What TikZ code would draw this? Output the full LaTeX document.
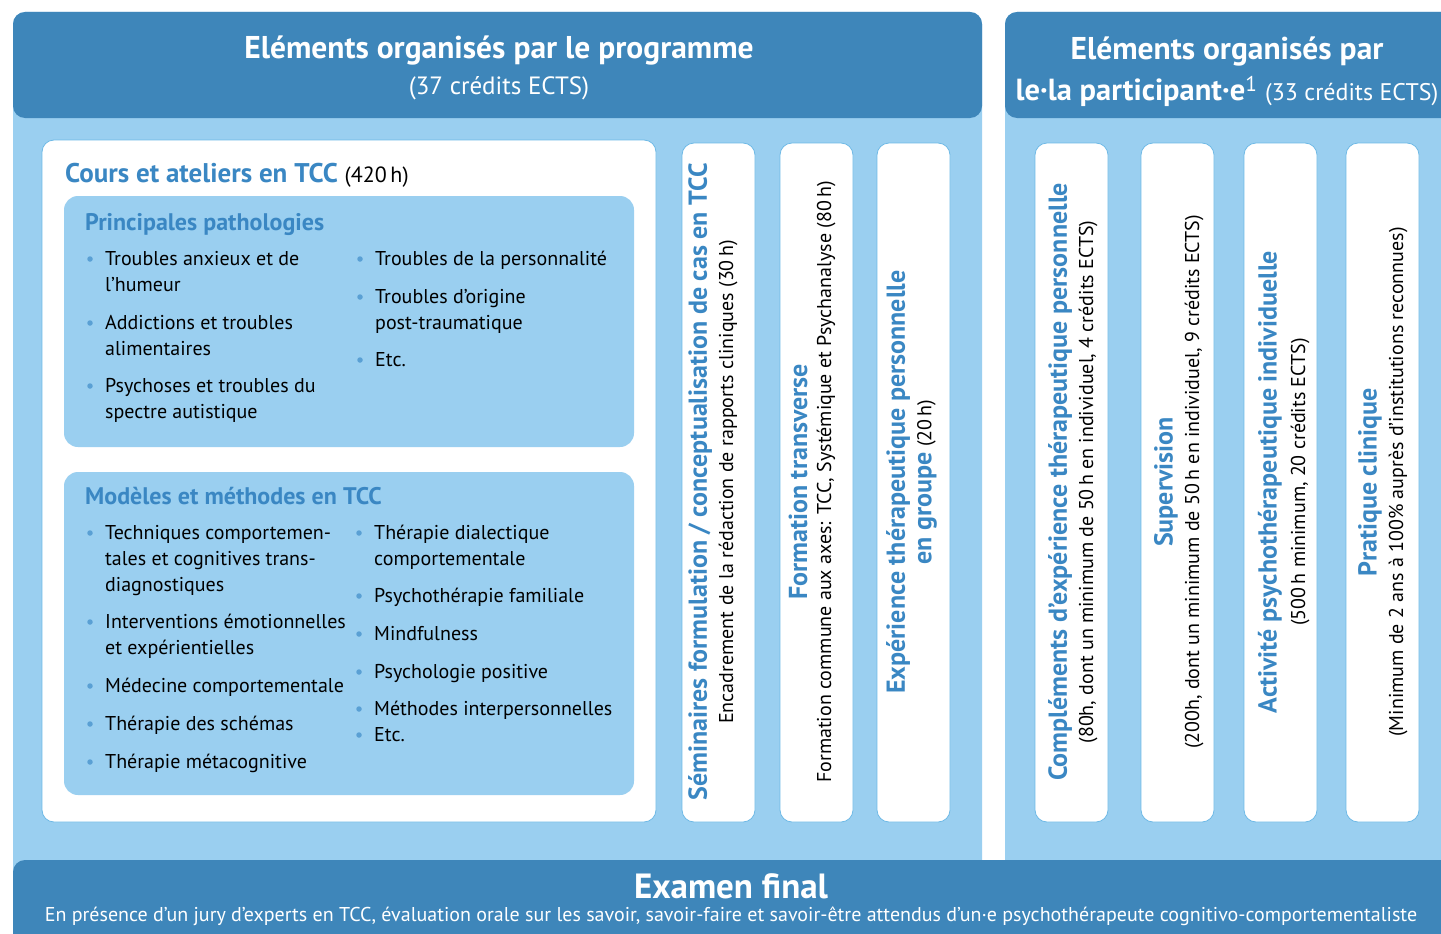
\documentclass[tikz,border=0pt]{standalone}
\usepackage{fontspec}
\setmainfont{PT Sans}
\definecolor{hdr}{RGB}{62,134,186}
\definecolor{lite}{RGB}{154,207,240}
\definecolor{tblue}{RGB}{58,135,195}
\definecolor{dotc}{RGB}{90,160,212}
\definecolor{edgec}{RGB}{110,185,230}
\begin{document}
\begin{tikzpicture}[x=1pt,y=-1pt,
  whitebox/.style={fill=white,draw=edgec,line width=0.8pt,rounded corners=12pt},
  innerbox/.style={fill=lite,rounded corners=14pt},
  htitle/.style={text=white,font=\bfseries\fontsize{31.5}{34}\selectfont,inner sep=0},
  hsub/.style={text=white,font=\fontsize{25}{28}\selectfont,inner sep=0},
  txt/.style={anchor=base west,inner sep=0,font=\fontsize{20}{26}\selectfont},
  bul/.style={circle,fill=dotc,inner sep=0,minimum size=5.5pt},
  boxtitle/.style={anchor=base west,inner sep=0,text=tblue,font=\bfseries\fontsize{24}{26}\selectfont},
  vtitle/.style={rotate=90,inner sep=0,text=tblue,font=\bfseries\fontsize{26}{28}\selectfont},
  vsub/.style={rotate=90,inner sep=0,font=\fontsize{20}{24}\selectfont}]
\clip (0,0) rectangle (1441,934);
\fill[white] (0,0) rectangle (1441,934);
% panels
\fill[lite,rounded corners=12pt] (13,12) rectangle (982,900);
\fill[hdr,rounded corners=12pt] (13,12) rectangle (982,118);
\fill[lite,rounded corners=12pt] (1005,12) rectangle (1460,900);
\fill[hdr,rounded corners=12pt] (1005,12) rectangle (1460,118);
% headers
\node[htitle] (h1) at (499,50) {Eléments organisés par le programme};
\node[hsub] (h1s) at (499,88) {(37 crédits ECTS)};
\node[htitle] (h2) at (1227,51) {Eléments organisés par};
\node[htitle,font=\bfseries\fontsize{30.5}{34}\selectfont] (h2s) at (1227,91) {le·la participant·e\textsuperscript{\mdseries 1} {\mdseries\fontsize{24}{28}\selectfont(33 crédits ECTS)}};
% big white box
\draw[whitebox] (42,140) rectangle (656,822);
\node[anchor=base west,inner sep=0,text=tblue,font=\bfseries\fontsize{27}{30}\selectfont] (cours) at (65,182) {Cours et ateliers en TCC {\mdseries\color{black}\fontsize{22}{26}\selectfont(420\,h)}};
% inner box 1
\fill[innerbox] (64,196) rectangle (634,447);
\node[boxtitle] (pp) at (85,230) {Principales pathologies};
\foreach \t/\x/\y [count=\i] in {
  Troubles anxieux et de/105/265, l’humeur/105/291,
  Addictions et troubles/105/329, alimentaires/105/355,
  Psychoses et troubles du/105/392, spectre autistique/105/418,
  Troubles de la personnalité/375/265,
  Troubles d’origine/375/303, post-traumatique/375/329,
  Etc./375/366}
  \node[txt] (pa\i) at (\x,\y) {\t};
\foreach \x/\y [count=\i] in {90/259,90/323,90/386,360/259,360/297,360/360}
  \node[bul] (pb\i) at (\x,\y) {};
% inner box 2
\fill[innerbox] (64,472) rectangle (634,795);
\node[boxtitle] (mm) at (85,504) {Modèles et méthodes en TCC};
\foreach \t/\x/\y [count=\i] in {
  Techniques comportemen-/105/539, tales et cognitives trans-/105/565, diagnostiques/105/591,
  Interventions émotionnelles/105/628, et expérientielles/105/654,
  Médecine comportementale/105/692,
  Thérapie des schémas/105/730,
  Thérapie métacognitive/105/768,
  Thérapie dialectique/374/539, comportementale/374/565,
  Psychothérapie familiale/374/602,
  Mindfulness/374/640,
  Psychologie positive/374/678,
  Méthodes interpersonnelles/374/715,
  Etc./374/741}
  \node[txt] (ma\i) at (\x,\y) {\t};
\foreach \x/\y [count=\i] in {90/533,90/622,90/686,90/724,90/762,359/533,359/596,359/634,359/672,359/709,359/735}
  \node[bul] (mb\i) at (\x,\y) {};
% vertical columns
\foreach \x [count=\i] in {682,780,877,1035,1141,1244,1346}
  \draw[whitebox] (\x,143) rectangle ++(73,679);
\node[vtitle] (c1t) at (700,482) {Séminaires formulation / conceptualisation de cas en TCC};
\node[vsub] (c1s) at (728,482) {Encadrement de la rédaction de rapports cliniques (30\,h)};
\node[vtitle] (c2t) at (798,482) {Formation transverse};
\node[vsub] (c2s) at (826,482) {Formation commune aux axes: TCC, Systémique et Psychanalyse (80\,h)};
\node[vtitle] (c3t) at (898,482) {Expérience thérapeutique personnelle};
\node[vsub] (c3s) at (927,482) {{\bfseries\color{tblue}\fontsize{26}{28}\selectfont en groupe} (20\,h)};
\node[vtitle] (r1t) at (1060,482) {Compléments d’expérience thérapeutique personnelle};
\node[vsub] (r1s) at (1088,482) {(80h, dont un minimum de 50\,h en individuel, 4 crédits ECTS)};
\node[vtitle] (r2t) at (1166,482) {Supervision};
\node[vsub] (r2s) at (1194,482) {(200h, dont un minimum de 50\,h en individuel, 9 crédits ECTS)};
\node[vtitle] (r3t) at (1270,482) {Activité psychothérapeutique individuelle};
\node[vsub] (r3s) at (1300,482) {(500\,h minimum, 20 crédits ECTS)};
\node[vtitle] (r4t) at (1370,482) {Pratique clinique};
\node[vsub] (r4s) at (1398,482) {(Minimum de 2 ans à 100\% auprès d’institutions reconnues)};
% bottom
\fill[hdr,rounded corners=12pt] (13,860) rectangle (1470,960);
\node[text=white,inner sep=0,font=\bfseries\fontsize{35}{38}\selectfont] (ex) at (731,886) {Examen final};
\node[text=white,inner sep=0,font=\fontsize{20}{22}\selectfont] (exs) at (731,916) {En présence d’un jury d’experts en TCC, évaluation orale sur les savoir, savoir-faire et savoir-être attendus d’un·e psychothérapeute cognitivo-comportementaliste};
\end{tikzpicture}
\end{document}
